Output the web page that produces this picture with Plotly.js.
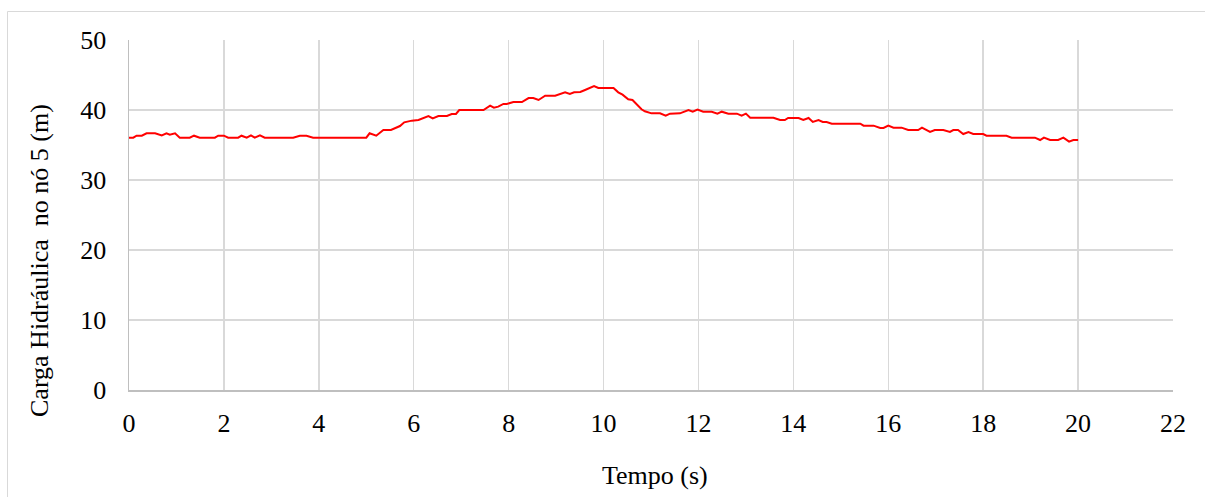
<!DOCTYPE html>
<html>
<head>
<meta charset="utf-8">
<script src="https://cdn.plot.ly/plotly-3.0.1.min.js"></script>
<style>
html,body{margin:0;padding:0;background:#fff;}
#chart{width:1205px;height:497px;}
</style>
</head>
<body>
<div id="chart"></div>
<script>
const tempo = [0, 0.09, 0.16, 0.27, 0.37, 0.55, 0.69, 0.79, 0.86, 0.97, 1.07, 1.28, 1.37, 1.49, 1.81, 1.88, 2.0, 2.09, 2.30, 2.37, 2.48, 2.57, 2.65, 2.76, 2.86, 3.46, 3.60, 3.74, 3.88, 5.0, 5.07,
  5.21, 5.36, 5.52, 5.71, 5.80, 5.96, 6.10, 6.31, 6.40, 6.52, 6.70, 6.80, 6.89, 6.96, 7.47, 7.61, 7.69, 7.78, 7.89, 7.96, 8.10, 8.28, 8.42, 8.52, 8.63, 8.77, 8.98, 9.19, 9.29, 9.38, 9.51, 9.61, 9.80, 9.89, 10.21,
  10.31, 10.40, 10.52, 10.61, 10.80, 10.87, 11.01, 11.19, 11.31, 11.40, 11.61, 11.79, 11.88, 11.98, 12.10, 12.28, 12.40, 12.49, 12.63, 12.81, 12.91, 13.00, 13.09, 13.58, 13.72, 13.82, 13.89, 14.11, 14.21, 14.32, 14.41, 14.53, 14.62, 14.70, 14.81,
  15.41, 15.48, 15.69, 15.83, 15.90, 16.0, 16.11, 16.28, 16.42, 16.63, 16.71, 16.88, 16.98, 17.16, 17.30, 17.37, 17.47, 17.58, 17.69, 17.79, 18.00, 18.07, 18.49, 18.60, 19.09, 19.20, 19.28, 19.41, 19.58, 19.69, 19.81, 19.90, 20.0];
const carga = [36.05, 36.05, 36.33, 36.33, 36.67, 36.67, 36.38, 36.67, 36.48, 36.67, 36.05, 36.05, 36.33, 36.05, 36.05, 36.33, 36.33, 36.05, 36.05, 36.33, 36.05, 36.38, 36.05, 36.38, 36.05, 36.05, 36.33, 36.33, 36.05, 36.05, 36.67,
  36.33, 37.14, 37.14, 37.71, 38.24, 38.48, 38.57, 39.14, 38.81, 39.14, 39.14, 39.43, 39.43, 40.0, 40.0, 40.62, 40.33, 40.48, 40.86, 40.86, 41.14, 41.14, 41.71, 41.71, 41.43, 42.05, 42.05, 42.52, 42.29, 42.52, 42.57, 42.86, 43.43, 43.14, 43.14,
  42.52, 42.19, 41.52, 41.43, 40.1, 39.81, 39.52, 39.52, 39.19, 39.48, 39.52, 40.0, 39.76, 40.05, 39.76, 39.76, 39.48, 39.76, 39.48, 39.48, 39.19, 39.48, 38.9, 38.9, 38.57, 38.57, 38.86, 38.86, 38.57, 38.86, 38.29, 38.57, 38.29, 38.29, 38.05,
  38.05, 37.76, 37.76, 37.43, 37.43, 37.76, 37.48, 37.48, 37.14, 37.14, 37.48, 36.86, 37.14, 37.14, 36.86, 37.14, 37.14, 36.57, 36.86, 36.57, 36.57, 36.33, 36.33, 36.05, 36.05, 35.71, 36.05, 35.71, 35.71, 36.05, 35.48, 35.71, 35.71];
const xTitle = 'Tempo (s)';
const yTitle = 'Carga Hidráulica  no nó 5 (m)';

const font = '"Liberation Serif", "Times New Roman", serif';
const trace = {
  x: tempo, y: carga, type: 'scatter', mode: 'lines',
  line: {color: '#ff0000', width: 2}, hoverinfo: 'skip'
};
const layout = {
  width: 1205, height: 497,
  margin: {l: 129, r: 32, t: 40, b: 107},
  paper_bgcolor: '#ffffff', plot_bgcolor: '#ffffff',
  showlegend: false,
  font: {family: font, size: 26, color: '#000'},
  xaxis: {
    range: [0, 22], dtick: 2, tick0: 0,
    showgrid: true, gridcolor: '#d9d9d9', gridwidth: 1.5,
    showline: true, linecolor: '#bfbfbf', linewidth: 1.5,
    zeroline: false, ticks: '', ticklabelstandoff: 9,
    tickfont: {family: font, size: 26, color: '#000'}
  },
  yaxis: {
    range: [0, 50], dtick: 10, tick0: 0,
    showgrid: true, gridcolor: '#d9d9d9', gridwidth: 1.5,
    showline: true, linecolor: '#bfbfbf', linewidth: 1.5,
    zeroline: false, ticks: '', ticklabelstandoff: 16,
    tickfont: {family: font, size: 26, color: '#000'}
  },
  annotations: [
    {text: xTitle, xref: 'paper', yref: 'paper', x: (655 - 129) / 1044, y: (390 - 475) / 350,
     xanchor: 'center', yanchor: 'middle', showarrow: false, font: {family: font, size: 26, color: '#000'}},
    {text: yTitle, xref: 'paper', yref: 'paper', x: (39 - 129) / 1044, y: (390 - 261) / 350,
     xanchor: 'center', yanchor: 'middle', textangle: -90, showarrow: false, font: {family: font, size: 26, color: '#000'}}
  ],
  shapes: [
    {type: 'line', xref: 'paper', yref: 'paper', x0: (7.5 - 129) / 1044, x1: (1210 - 129) / 1044, y0: (390 - 11.5) / 350, y1: (390 - 11.5) / 350,
     line: {color: '#d9d9d9', width: 1}},
    {type: 'line', xref: 'paper', yref: 'paper', x0: (7.5 - 129) / 1044, x1: (7.5 - 129) / 1044, y0: (390 - 11.5) / 350, y1: (390 - 510) / 350,
     line: {color: '#d9d9d9', width: 1}}
  ]
};
Plotly.newPlot('chart', [trace], layout, {staticPlot: true, displayModeBar: false});
</script>
</body>
</html>
